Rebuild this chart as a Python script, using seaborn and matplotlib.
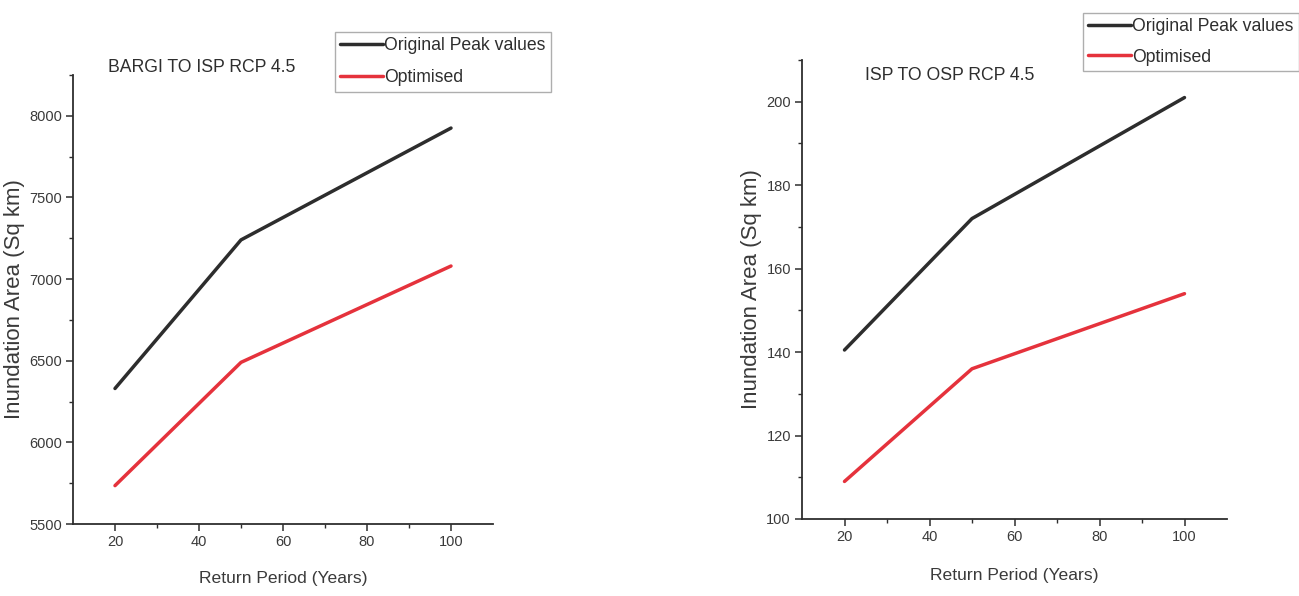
import matplotlib
matplotlib.use("Agg")
import matplotlib.pyplot as plt
from matplotlib.ticker import MultipleLocator, FixedLocator
import pandas as pd
import seaborn as sns

# Return periods (years) and inundation areas (sq km)
return_period = [20, 50, 100]
bargi_original = [6330, 7240, 7925]
bargi_optimised = [5735, 6490, 7080]
isp_original = [140.5, 172, 201]
isp_optimised = [109, 136, 154]

series_names = ["Original Peak values", "Optimised"]
x_ticks = [20, 40, 60, 80, 100]
bargi_y_ticks = [5500, 6000, 6500, 7000, 7500, 8000]
isp_y_ticks = [100, 120, 140, 160, 180, 200]

sns.set_theme(style="ticks")
plt.rcParams["font.family"] = ["Liberation Sans", "DejaVu Sans"]

INK = "#2e2e2e"
palette = {series_names[0]: "#2d2d2d", series_names[1]: "#e5323c"}


def long_frame(original, optimised):
    rows = []
    for name, vals in zip(series_names, [original, optimised]):
        for x, y in zip(return_period, vals):
            rows.append({"Return Period": x, "Area": y, "Series": name})
    return pd.DataFrame(rows)


fig = plt.figure(figsize=(12.99, 5.96), dpi=100)
W, H = 1299, 596


def px_axes(x0, y0, x1, y1):
    return fig.add_axes([x0 / W, 1 - y1 / H, (x1 - x0) / W, (y1 - y0) / H])


def draw_panel(ax, original, optimised, yticks, ylim, minor_y, xpad):
    df = long_frame(original, optimised)
    sns.lineplot(data=df, x="Return Period", y="Area", hue="Series",
                 hue_order=series_names, palette=palette, linewidth=2.5,
                 ax=ax, legend=False)
    ax.set_xlim(10, 110)
    ax.set_ylim(*ylim)
    ax.xaxis.set_major_locator(FixedLocator(x_ticks))
    ax.xaxis.set_minor_locator(FixedLocator([30, 50, 70, 90]))
    ax.yaxis.set_major_locator(FixedLocator(yticks))
    ax.yaxis.set_minor_locator(MultipleLocator(minor_y))
    for s in ["top", "right"]:
        ax.spines[s].set_visible(False)
    for s in ["left", "bottom"]:
        ax.spines[s].set_color(INK)
        ax.spines[s].set_linewidth(1.3)
    ax.tick_params(axis="both", which="major", direction="out", length=5,
                   width=1.1, color=INK, labelsize=10.5, labelcolor="#3a3a3a",
                   pad=3)
    ax.tick_params(axis="both", which="minor", direction="out", length=3,
                   width=1.0, color=INK)
    ax.set_xlabel("Return Period (Years)", fontsize=12.6, color="#3a3a3a",
                  labelpad=xpad)
    ax.set_ylabel("Inundation Area (Sq km)", fontsize=16, color="#3a3a3a",
                  labelpad=3)
    ax.set_facecolor("white")


def draw_legend(x0, y0, spacing):
    handles = [plt.Line2D([], [], color=palette[n], linewidth=2.5)
               for n in series_names]
    leg = fig.legend(handles, series_names, loc="upper left",
                     bbox_to_anchor=(x0 / W, 1 - y0 / H),
                     bbox_transform=fig.transFigure, frameon=True,
                     fancybox=False, fontsize=12.7, handlelength=2.4,
                     handletextpad=0.1, borderpad=0.3, labelspacing=spacing,
                     borderaxespad=0)
    frame = leg.get_frame()
    frame.set_edgecolor("#9a9a9a")
    frame.set_linewidth(1.0)
    for t in leg.get_texts():
        t.set_color("#2e2e2e")


ax1 = px_axes(73, 75, 493, 524)
draw_panel(ax1, bargi_original, bargi_optimised, bargi_y_ticks,
           (5500, 8250), 250, 16)
fig.text(108 / W, 1 - 68 / H, "BARGI TO ISP RCP 4.5", fontsize=12.7,
         color="#2e2e2e", ha="left", va="center")
draw_legend(335, 32, 0.85)

ax2 = px_axes(802, 60, 1227, 519)
draw_panel(ax2, isp_original, isp_optimised, isp_y_ticks, (100, 210), 10, 17)
fig.text(865 / W, 1 - 75 / H, "ISP TO OSP RCP 4.5", fontsize=12.7,
         color="#2e2e2e", ha="left", va="center")
draw_legend(1083, 13, 0.75)

fig.savefig("out.png", dpi=100, facecolor="white")
